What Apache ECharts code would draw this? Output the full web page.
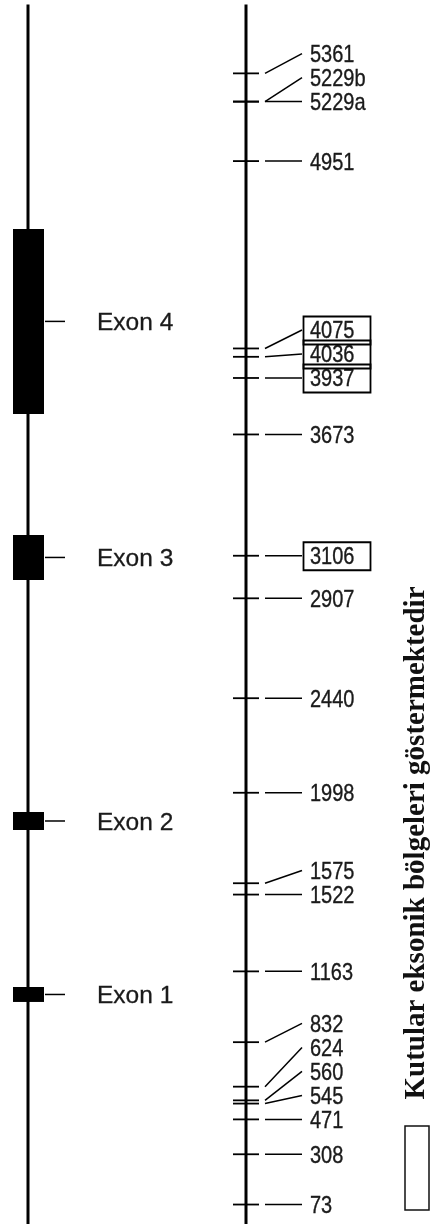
<!DOCTYPE html>
<html><head><meta charset="utf-8">
<script src="https://cdn.jsdelivr.net/npm/echarts@6/dist/echarts.min.js"></script>
<style>html,body{margin:0;padding:0;background:#fff}#c{width:432px;height:1224px}</style>
</head><body><div id="c"></div>
<script>
// ---- data ----
const siteLabels = ['73','308','471','545','560','624','832','1163','1522','1575','1998','2440','2907','3106','3673','3937','4036','4075','4951','5229a','5229b','5361'];
const siteValues = [73,308,471,545,560,624,832,1163,1522,1575,1998,2440,2907,3106,3673,3937,4036,4075,4951,5229,5229,5361];
const exonicSites = ['3106','3937','4036','4075'];
const exonNames = ['Exon 1','Exon 2','Exon 3','Exon 4'];
const exonStart = [1020,1824,2993,3769];
const exonEnd = [1090,1908,3203,4634];
const axisMin = -18, axisMax = 5704;
const lineTop = 5683;
const noteText = 'Kutular eksonik bölgeleri göstermektedir';

// ---- layout ----
const GENE_X = 28, MAP_X = 246;
const LABEL_GAP_PX = 24;
const numFont = {fontFamily: 'Liberation Sans, Arial, sans-serif', fontSize: 20, fill: '#1a1a1a',
                 stroke: '#1a1a1a', lineWidth: 0.3};
const NUM_SCALE_Y = 1.18;

const chart = echarts.init(document.getElementById('c'), null, {renderer: 'canvas'});
const pxPerUnit = 1224 / (axisMax - axisMin);
const gapUnits = LABEL_GAP_PX / pxPerUnit;
// label positions (value space), pushed up to avoid overlap
const labelVals = [];
let prev = -Infinity;
siteValues.forEach((v) => { const lv = Math.max(v, prev + gapUnits); labelVals.push(lv); prev = lv; });

const siteData = siteValues.map((v, i) => [i, v, labelVals[i]]);
const exonData = exonNames.map((n, i) => [i, exonStart[i], exonEnd[i]]);

function lineEl(x1, y1, x2, y2, w) {
  return {type: 'line', shape: {x1, y1, x2, y2}, style: {stroke: '#000', lineWidth: w}};
}

chart.setOption({
  animation: false,
  backgroundColor: '#fff',
  grid: {left: 0, right: 0, top: 0, bottom: 0},
  xAxis: {type: 'value', min: 0, max: 432, show: false},
  yAxis: {type: 'value', min: axisMin, max: axisMax, show: false},
  graphic: [
    {type: 'text', x: 417, y: 843, rotation: Math.PI / 2,
     style: {text: noteText, fontFamily: 'Liberation Serif, Times New Roman, serif', fontWeight: 'bold',
             fontSize: 29, fill: '#111', align: 'center', verticalAlign: 'middle'}},
    {type: 'rect', shape: {x: 405, y: 1126, width: 24, height: 84},
     style: {fill: '#fff', stroke: '#111', lineWidth: 1.5}}
  ],
  series: [
    {
      type: 'custom', name: 'axes', data: [[0, lineTop]],
      encode: {x: 0, y: 1},
      renderItem: (params, api) => {
        const yt = api.coord([0, api.value(1)])[1];
        const yb = api.coord([0, axisMin])[1] + 2;
        return {type: 'group', children: [
          lineEl(GENE_X, yt, GENE_X, yb, 3),
          lineEl(MAP_X, yt, MAP_X, yb, 3)
        ]};
      }
    },
    {
      type: 'custom', name: 'exons', data: exonData,
      encode: {x: 0, y: 1},
      renderItem: (params, api) => {
        const y1 = api.coord([0, api.value(2)])[1];
        const y2 = api.coord([0, api.value(1)])[1];
        const ym = (y1 + y2) / 2;
        return {type: 'group', children: [
          {type: 'rect', shape: {x: 13, y: y1, width: 31, height: y2 - y1}, style: {fill: '#000'}},
          lineEl(45, ym, 65, ym, 1.5),
          {type: 'text', x: 97, y: ym + 2,
           style: {text: exonNames[params.dataIndex], fontFamily: 'Liberation Sans, Arial, sans-serif',
                   fontSize: 24.5, fill: '#1a1a1a', align: 'left', verticalAlign: 'middle',
                   stroke: '#1a1a1a', lineWidth: 0.3}}
        ]};
      }
    },
    {
      type: 'custom', name: 'sites', data: siteData,
      encode: {x: 0, y: 1},
      renderItem: (params, api) => {
        const y = api.coord([0, api.value(1)])[1];
        const ly = api.coord([0, api.value(2)])[1];
        const name = siteLabels[params.dataIndex];
        const ch = [
          lineEl(233, y, 259, y, 1.8),
          lineEl(265, y, 302, ly, 1.5),
          {type: 'text', x: 310, y: ly + 2, scaleY: NUM_SCALE_Y,
           style: Object.assign({text: name, align: 'left', verticalAlign: 'middle'}, numFont)}
        ];
        if (exonicSites.indexOf(name) >= 0) {
          ch.push({type: 'rect', shape: {x: 303.5, y: ly - 13.5, width: 67, height: 28},
                   style: {fill: 'none', stroke: '#000', lineWidth: 1.8}});
        }
        return {type: 'group', children: ch};
      }
    }
  ]
});
</script></body></html>
